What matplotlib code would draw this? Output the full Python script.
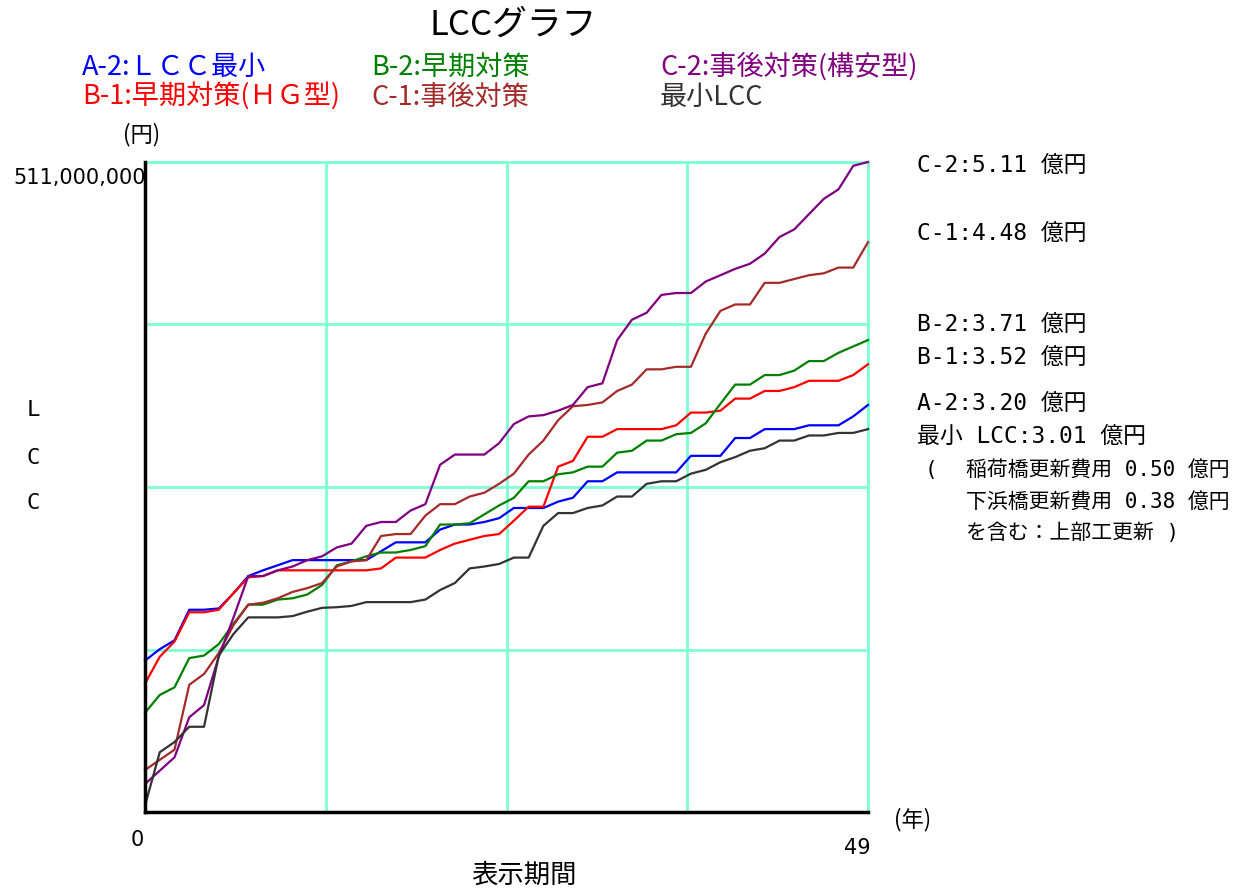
import numpy as np
import matplotlib.pyplot as plt

# LCC values per year (unit: 億円)
years = np.arange(50)

a2 = [1.19, 1.28, 1.35, 1.59, 1.59, 1.60, 1.72, 1.855, 1.90, 1.94,
      1.98, 1.98, 1.98, 1.98, 1.98, 1.98, 2.05, 2.12, 2.12, 2.12,
      2.22, 2.26, 2.26, 2.28, 2.31, 2.39, 2.39, 2.39, 2.44, 2.47,
      2.60, 2.60, 2.67, 2.67, 2.67, 2.67, 2.67, 2.80, 2.80, 2.80,
      2.94, 2.94, 3.01, 3.01, 3.01, 3.04, 3.04, 3.04, 3.11, 3.20]
b1 = [1.01, 1.22, 1.34, 1.57, 1.57, 1.59, 1.72, 1.845, 1.855, 1.90,
      1.90, 1.90, 1.90, 1.90, 1.90, 1.90, 1.915, 2.00, 2.00, 2.00,
      2.06, 2.11, 2.14, 2.17, 2.185, 2.29, 2.40, 2.40, 2.715, 2.76,
      2.95, 2.95, 3.01, 3.01, 3.01, 3.01, 3.04, 3.14, 3.14, 3.155,
      3.25, 3.25, 3.31, 3.31, 3.34, 3.39, 3.39, 3.39, 3.435, 3.52]
b2 = [0.78, 0.92, 0.98, 1.21, 1.23, 1.32, 1.48, 1.63, 1.63, 1.67,
      1.68, 1.71, 1.785, 1.94, 1.97, 2.01, 2.04, 2.04, 2.06, 2.09,
      2.26, 2.26, 2.27, 2.34, 2.41, 2.47, 2.60, 2.60, 2.655, 2.67,
      2.715, 2.715, 2.825, 2.84, 2.92, 2.92, 2.97, 2.98, 3.055, 3.21,
      3.36, 3.36, 3.435, 3.435, 3.47, 3.545, 3.545, 3.61, 3.66, 3.71]
c1 = [0.33, 0.41, 0.49, 1.00, 1.085, 1.25, 1.47, 1.63, 1.645, 1.68,
      1.73, 1.76, 1.80, 1.93, 1.97, 1.98, 2.17, 2.185, 2.185, 2.33,
      2.42, 2.42, 2.48, 2.51, 2.58, 2.66, 2.81, 2.92, 3.08, 3.19,
      3.20, 3.22, 3.31, 3.36, 3.48, 3.48, 3.50, 3.50, 3.76, 3.94,
      3.99, 3.99, 4.16, 4.16, 4.19, 4.22, 4.235, 4.28, 4.28, 4.48]
c2 = [0.22, 0.325, 0.43, 0.745, 0.84, 1.22, 1.53, 1.855, 1.855, 1.90,
      1.93, 1.98, 2.01, 2.08, 2.11, 2.25, 2.28, 2.28, 2.37, 2.42,
      2.73, 2.81, 2.81, 2.81, 2.90, 3.05, 3.11, 3.12, 3.155, 3.20,
      3.34, 3.37, 3.71, 3.87, 3.925, 4.065, 4.08, 4.08, 4.17, 4.22,
      4.27, 4.31, 4.39, 4.52, 4.58, 4.70, 4.82, 4.895, 5.08, 5.11]
lcc_min = [0.05, 0.47, 0.55, 0.67, 0.67, 1.23, 1.40, 1.53, 1.53, 1.53,
           1.54, 1.575, 1.605, 1.61, 1.62, 1.65, 1.65, 1.65, 1.65, 1.67,
           1.745, 1.80, 1.915, 1.93, 1.95, 2.00, 2.00, 2.25, 2.35, 2.35,
           2.39, 2.41, 2.48, 2.48, 2.58, 2.60, 2.60, 2.66, 2.69, 2.75,
           2.79, 2.84, 2.86, 2.92, 2.92, 2.96, 2.96, 2.98, 2.98, 3.01]

series = [a2, b1, b2, c1, c2, lcc_min]
colors = ['#0000FF', '#FF0000', '#008000', '#A52A2A', '#800080', '#333333']
legend_labels = ['A-2:ＬＣＣ最小', 'B-1:早期対策(ＨＧ型)', 'B-2:早期対策',
                 'C-1:事後対策', 'C-2:事後対策(構安型)', '最小LCC']
end_labels = ['C-2:5.11 億円', 'C-1:4.48 億円', 'B-2:3.71 億円',
              'B-1:3.52 億円', 'A-2:3.20 億円', '最小 LCC:3.01 億円']
note_lines = ['稲荷橋更新費用 0.50 億円', '下浜橋更新費用 0.38 億円', 'を含む：上部工更新 )']

y_max = 511000000
W, H = 1258, 890
JP = ['Noto Sans CJK JP', 'DejaVu Sans']
MONO = ['DejaVu Sans Mono', 'Noto Sans CJK JP']

fig = plt.figure(figsize=(W / 100, H / 100), dpi=100)
ax = fig.add_axes([145 / W, 1 - 812 / H, (868 - 145) / W, (812 - 162) / H])

def fx(px):
    return px / W

def fy(py):
    return 1 - py / H

grid_c = '#80FFD4'
ax.set_xlim(0, 49)
ax.set_ylim(0, y_max)
ax.set_xticks([49 * k / 4 for k in range(1, 5)])
ax.set_yticks([y_max * k / 4 for k in range(1, 5)])
ax.grid(True, color=grid_c, lw=2)
ax.set_axisbelow(True)
ax.tick_params(length=0, labelbottom=False, labelleft=False)
for s in ['top', 'right']:
    ax.spines[s].set_color(grid_c)
    ax.spines[s].set_linewidth(2)
for s in ['left', 'bottom']:
    ax.spines[s].set_color('black')
    ax.spines[s].set_linewidth(2.5)
    ax.spines[s].set_zorder(5)

for vals, c in zip(series, colors):
    ax.plot(years, np.array(vals) * 1e8, color=c, lw=1.6, clip_on=False, zorder=3)

# title and legend texts
fig.text(fx(513), fy(25), 'LCCグラフ', family=JP, fontsize=25, ha='center', va='center')
leg_pos = [(82, 67), (82, 97), (371, 67), (371, 97), (660, 67), (660, 97)]
for lab, c, (px, py) in zip(legend_labels, colors, leg_pos):
    fig.text(fx(px), fy(py), lab, family=JP, fontsize=19.5, color=c, ha='left', va='center')

# axis labels
fig.text(fx(142), fy(135), '(円)', family=JP, fontsize=16, ha='center', va='center')
fig.text(fx(146), fy(178), '{:,}'.format(y_max), family=['DejaVu Sans'], fontsize=15,
         ha='right', va='center')
fig.text(fx(137), fy(840), '0', family=['DejaVu Sans'], fontsize=15, ha='center', va='center')
fig.text(fx(857), fy(848), '49', family=['DejaVu Sans'], fontsize=15, ha='center', va='center')
fig.text(fx(913), fy(820), '(年)', family=JP, fontsize=16, ha='center', va='center')
fig.text(fx(524), fy(875), '表示期間', family=JP, fontsize=19, ha='center', va='center')
for ch, py in zip('LCC', [410, 458, 503]):
    fig.text(fx(33), fy(py), ch, family=MONO, fontsize=16, ha='center', va='center')

# end values on the right
end_y = [165, 233, 324, 357, 403, 436]
for lab, py in zip(end_labels, end_y):
    fig.text(fx(917), fy(py), lab, family=MONO, fontsize=16.5, ha='left', va='center')
fig.text(fx(925), fy(470), '(', family=MONO, fontsize=15, ha='left', va='center')
for lab, py in zip(note_lines, [470, 502, 533]):
    fig.text(fx(966), fy(py), lab, family=MONO, fontsize=15, ha='left', va='center')

fig.savefig('out.png', dpi=100)
